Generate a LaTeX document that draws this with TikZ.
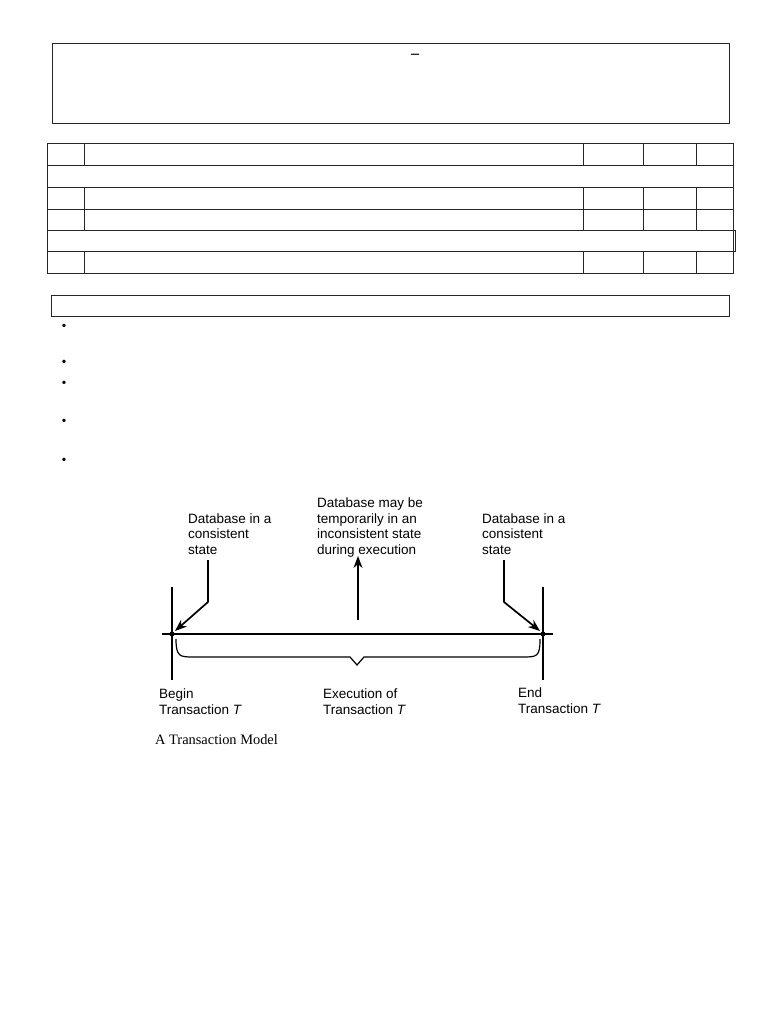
\documentclass[tikz,border=0pt]{standalone}
\usepackage{fontspec}
\setmainfont{Liberation Sans}
\newfontfamily\serifface{Liberation Serif}
\usetikzlibrary{arrows.meta}
\begin{document}
\begin{tikzpicture}[x=1pt,y=-1pt,
  frame/.style={draw=black!85, line width=1pt},
  lbl/.style={anchor=base west, inner sep=0pt, font=\fontsize{13.5}{15.4}\selectfont, align=left},
  heavy/.style={line width=1.8pt},
  arr/.style={line width=1.7pt, -{Stealth[length=12pt,width=9pt]}},
  dotn/.style={circle, fill=black, inner sep=0pt, minimum size=5pt},
  bul/.style={inner sep=0pt, font=\serifface\fontsize{14}{14}\selectfont},
  captext/.style={anchor=base west, inner sep=0pt, font=\serifface\fontsize{14.4}{16}\selectfont}]
\useasboundingbox[fill=white] (0,0) rectangle (768,1024);
% top box
\draw[frame] (52,44) rectangle (729,124);
\node[inner sep=0pt, font=\serifface\bfseries\fontsize{16}{16}\selectfont] (dash) at (415,56) {–};
% table
\draw[frame] (47,144) rectangle (733,273);
\foreach \yy in {166,188,210,231,251} \draw[frame] (47,\yy) -- (733,\yy);
\draw[frame] (733,231) -- (735,231) -- (735,251) -- (733,251);
\foreach \xx in {84,583,643,696} {
  \draw[frame] (\xx,144) -- (\xx,166);
  \draw[frame] (\xx,188) -- (\xx,231);
  \draw[frame] (\xx,251) -- (\xx,273);
}
% box 3
\draw[frame] (51,295) rectangle (729,316);
\foreach \yy [count=\i] in {327,363,384,422,461} \node[bul] (b\i) at (64,\yy) {•};
% diagram
\coordinate (hl) at (162,634);
\coordinate (hr) at (553,634);
\draw[heavy] (hl) -- (hr);
\node[dotn] (beginpt) at (172,634) {};
\node[dotn] (endpt) at (543,634) {};
\coordinate (lvt) at (172,587); \coordinate (lvb) at (172,680);
\coordinate (rvt) at (543,587); \coordinate (rvb) at (543,680);
\draw[heavy] (lvt) -- (lvb);
\draw[heavy] (rvt) -- (rvb);
% labels (anchor = baseline of last line)
\node[lbl] (ltext) at (188,554) {Database in a\\consistent\\state};
\node[lbl] (mtext) at (317,554) {Database may be\\temporarily in an\\inconsistent state\\during execution};
\node[lbl] (rtext) at (482,554) {Database in a\\consistent\\state};
\node[lbl] (btext) at (159,714) {Begin\\Transaction \textit{T}};
\node[lbl] (etext) at (323,714) {Execution of\\Transaction \textit{T}};
\node[lbl] (ntext) at (518,713) {End\\Transaction \textit{T}};
\node[captext] (caption) at (155,744) {A Transaction Model};
% arrows
\coordinate (la1) at (208,560); \coordinate (la2) at (208,602); \coordinate (la3) at (175,631);
\draw[arr] (la1) -- (la2) -- (la3);
\coordinate (ra1) at (504,560); \coordinate (ra2) at (504,602); \coordinate (ra3) at (540,631);
\draw[arr] (ra1) -- (ra2) -- (ra3);
\coordinate (ma1) at (358,620); \coordinate (ma2) at (358,556);
\draw[arr] (ma1) -- (ma2);
% brace
\draw[line width=1.2pt] (176,639) .. controls (176,657) and (180,657) .. (194,657) -- (350,657) -- (357,665) -- (364,657) -- (522,657) .. controls (537,657) and (540,657) .. (540,639);
\end{tikzpicture}
\end{document}
